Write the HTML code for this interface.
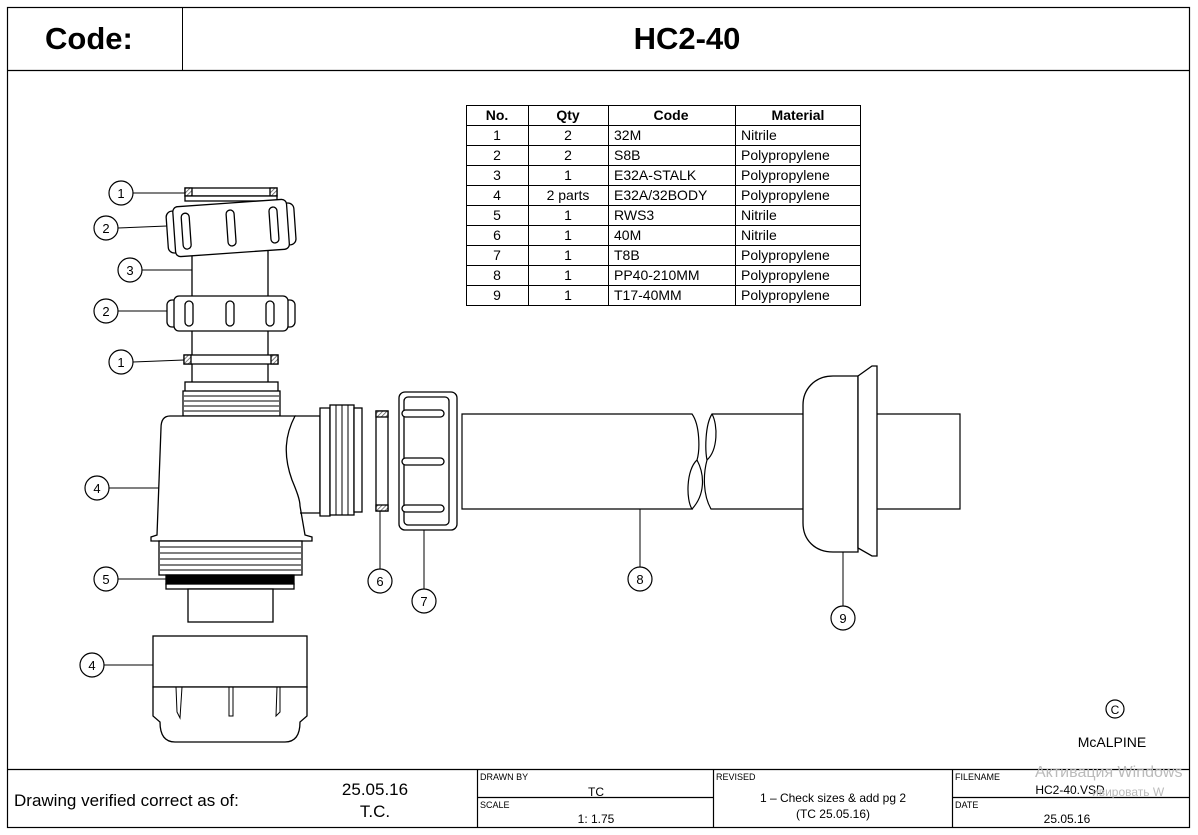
<!DOCTYPE html>
<html><head><meta charset="utf-8"><style>
html,body{margin:0;padding:0;background:#fff;}
svg{display:block;font-family:"Liberation Sans",Arial,sans-serif;}
</style></head><body>
<svg width="1198" height="835" viewBox="0 0 1198 835" xmlns="http://www.w3.org/2000/svg">
<defs>
<pattern id="h" width="3" height="3" patternUnits="userSpaceOnUse" patternTransform="rotate(45)"><rect width="3" height="3" fill="#fff"/><line x1="0" y1="0" x2="0" y2="3" stroke="#555" stroke-width="1.5"/></pattern>
</defs>
<rect x="0" y="0" width="1198" height="835" fill="#fff"/>
<rect x="7.5" y="7.5" width="1182" height="820" fill="none" stroke="#000" stroke-width="1.2"/>
<line x1="7" y1="70.5" x2="1190" y2="70.5" stroke="#000" stroke-width="1.2"/>
<line x1="182.5" y1="7" x2="182.5" y2="70" stroke="#000"/>
<text x="45" y="49" font-size="31" font-weight="bold">Code:</text>
<text x="687" y="49" font-size="31" font-weight="bold" text-anchor="middle">HC2-40</text>

<g stroke="#000" stroke-width="1" fill="none">
<rect x="466.5" y="105.5" width="394" height="200"/>
<line x1="528.5" y1="105" x2="528.5" y2="306"/><line x1="608.5" y1="105" x2="608.5" y2="306"/><line x1="735.5" y1="105" x2="735.5" y2="306"/>
<line x1="466" y1="125.5" x2="861" y2="125.5"/><line x1="466" y1="145.5" x2="861" y2="145.5"/><line x1="466" y1="165.5" x2="861" y2="165.5"/><line x1="466" y1="185.5" x2="861" y2="185.5"/><line x1="466" y1="205.5" x2="861" y2="205.5"/><line x1="466" y1="225.5" x2="861" y2="225.5"/><line x1="466" y1="245.5" x2="861" y2="245.5"/><line x1="466" y1="265.5" x2="861" y2="265.5"/><line x1="466" y1="285.5" x2="861" y2="285.5"/>
</g>
<g font-size="14" fill="#000">
<g font-weight="bold" text-anchor="middle"><text x="497" y="120">No.</text><text x="568" y="120">Qty</text><text x="671" y="120">Code</text><text x="798" y="120">Material</text></g>
<g text-anchor="middle"><text x="497" y="140">1</text><text x="497" y="160">2</text><text x="497" y="180">3</text><text x="497" y="200">4</text><text x="497" y="220">5</text><text x="497" y="240">6</text><text x="497" y="260">7</text><text x="497" y="280">8</text><text x="497" y="300">9</text>
<text x="568" y="140">2</text><text x="568" y="160">2</text><text x="568" y="180">1</text><text x="568" y="200">2 parts</text><text x="568" y="220">1</text><text x="568" y="240">1</text><text x="568" y="260">1</text><text x="568" y="280">1</text><text x="568" y="300">1</text></g>
<text x="614" y="140">32M</text><text x="614" y="160">S8B</text><text x="614" y="180">E32A-STALK</text><text x="614" y="200">E32A/32BODY</text><text x="614" y="220">RWS3</text><text x="614" y="240">40M</text><text x="614" y="260">T8B</text><text x="614" y="280">PP40-210MM</text><text x="614" y="300">T17-40MM</text>
<text x="741" y="140">Nitrile</text><text x="741" y="160">Polypropylene</text><text x="741" y="180">Polypropylene</text><text x="741" y="200">Polypropylene</text><text x="741" y="220">Nitrile</text><text x="741" y="240">Nitrile</text><text x="741" y="260">Polypropylene</text><text x="741" y="280">Polypropylene</text><text x="741" y="300">Polypropylene</text>
</g>

<g stroke="#000" stroke-width="1.3" fill="#fff">
<rect x="185" y="188" width="92" height="8"/><rect x="185" y="188" width="7" height="8" fill="url(#h)"/><rect x="270" y="188" width="7" height="8" fill="url(#h)"/>
<rect x="185" y="196" width="92" height="5"/>
<line x1="192" y1="250" x2="192" y2="383"/><line x1="268" y1="250" x2="268" y2="383"/>
<g transform="rotate(-4 231 227)">
<rect x="167" y="207" width="128" height="42" rx="6"/>
<rect x="174" y="203" width="114" height="50" rx="5"/>
<rect x="182" y="210" width="8" height="36" rx="4"/><rect x="227" y="210" width="8" height="36" rx="4"/><rect x="270" y="210" width="8" height="36" rx="4"/>
</g>
<rect x="167" y="300" width="128" height="27" rx="5"/>
<rect x="174" y="296" width="114" height="35" rx="5"/>
<rect x="185" y="301" width="8" height="25" rx="4"/><rect x="226" y="301" width="8" height="25" rx="4"/><rect x="266" y="301" width="8" height="25" rx="4"/>
<rect x="184" y="355" width="94" height="9"/><rect x="184" y="355" width="7" height="9" fill="url(#h)"/><rect x="271" y="355" width="7" height="9" fill="url(#h)"/>
<rect x="185" y="382" width="93" height="10"/>
<rect x="183" y="391" width="97" height="25"/>
<path d="M184 396 H279 M184 401 H279 M184 406 H279 M184 411 H279" fill="none" stroke-width="1"/>
<path d="M170 416 H295 C285 435,283 455,292 480 C297 492,300 500,300 506 L305 535 L312 537 L312 541 H151 L151 537 L157 535 L161 428 C161 420,164 416,170 416 Z"/>
<path d="M295 416 H320 L320 513 H300" fill="none"/>
<path d="M320 408 H330 V516 H320 Z"/>
<rect x="330" y="405" width="24" height="110"/>
<path d="M336 405 V515 M342 405 V515 M348 405 V515" fill="none" stroke-width="1"/>
<rect x="354" y="408" width="8" height="104"/>
<rect x="159" y="541" width="143" height="34"/>
<path d="M160 547 H301 M160 553 H301 M160 559 H301 M160 565 H301 M160 570 H301" fill="none" stroke-width="1"/>
<rect x="166" y="575" width="128" height="9" fill="#000"/>
<rect x="166" y="584" width="128" height="5"/>
<rect x="188" y="589" width="85" height="33"/>
<rect x="153" y="636" width="154" height="51"/>
<path d="M153 687 H307 V716 L300 722 C300 735,295 742,285 742 H175 C165 742,160 735,160 722 L153 716 Z"/>
<path d="M176 687 L177 712 L180 718 L182 687 M229 687 V716 H233 V687 M277 687 L276 716 L280 712 V687" fill="none" stroke-width="1"/>
<rect x="376" y="411" width="12" height="100"/><rect x="376" y="411" width="12" height="6" fill="url(#h)"/><rect x="376" y="505" width="12" height="6" fill="url(#h)"/>
<rect x="399" y="392" width="58" height="138" rx="6"/>
<rect x="404" y="397" width="45" height="128" rx="4"/>
<rect x="402" y="410" width="42" height="7" rx="3.5"/><rect x="402" y="458" width="42" height="7" rx="3.5"/><rect x="402" y="505" width="42" height="7" rx="3.5"/>
<!-- pipe 8 -->
<path d="M462 414 H692 C700 425,700 450,697 460 C686 470,686 500,692 509 H462 Z" stroke-width="1.2"/>
<path d="M697 460 C705 475,705 495,692 509" fill="none" stroke-width="1.2"/>
<path d="M712 414 H960 V509 H711 C703 495,703 475,707 460 C705 450,705 425,712 414 Z" stroke-width="1.2"/>
<path d="M712 414 C718 425,718 450,707 460" fill="none" stroke-width="1.2"/>
<!-- part 9 -->
<path d="M858 376 H833 C814 376,803 390,803 405 V523 C803 540,815 552,833 552 H858 Z"/>
<path d="M858 376 L872 366 L877 366 V556 L872 556 L858 548 Z"/>
</g>
<g stroke="#000" stroke-width="1" fill="none">
<line x1="133" y1="193" x2="185" y2="193"/><line x1="118" y1="228" x2="167" y2="226"/><line x1="142" y1="270" x2="192" y2="270"/><line x1="118" y1="311" x2="167" y2="311"/><line x1="133" y1="362" x2="184" y2="360"/>
<line x1="109" y1="488" x2="159" y2="488"/><line x1="118" y1="579" x2="166" y2="579"/><line x1="104" y1="665" x2="153" y2="665"/>
<line x1="380" y1="511" x2="380" y2="569"/><line x1="424" y1="530" x2="424" y2="589"/><line x1="640" y1="509" x2="640" y2="567"/><line x1="843" y1="552" x2="843" y2="606"/>
</g>
<g stroke="#000" stroke-width="1.2" fill="#fff">
<circle cx="121" cy="193" r="12"/><circle cx="106" cy="228" r="12"/><circle cx="130" cy="270" r="12"/><circle cx="106" cy="311" r="12"/><circle cx="121" cy="362" r="12"/><circle cx="97" cy="488" r="12"/><circle cx="106" cy="579" r="12"/><circle cx="92" cy="665" r="12"/><circle cx="380" cy="581" r="12"/><circle cx="424" cy="601" r="12"/><circle cx="640" cy="579" r="12"/><circle cx="843" cy="618" r="12"/>
</g>
<g font-size="13" text-anchor="middle">
<text x="121" y="198">1</text><text x="106" y="233">2</text><text x="130" y="275">3</text><text x="106" y="316">2</text><text x="121" y="367">1</text><text x="97" y="493">4</text><text x="106" y="584">5</text><text x="92" y="670">4</text><text x="380" y="586">6</text><text x="424" y="606">7</text><text x="640" y="584">8</text><text x="843" y="623">9</text>
</g>
<circle cx="1115" cy="709" r="9" fill="none" stroke="#000" stroke-width="1.2"/>
<text x="1115" y="714" font-size="12" text-anchor="middle">C</text>
<text x="1112" y="747" font-size="14" text-anchor="middle">McALPINE</text>

<g stroke="#000" stroke-width="1.2" fill="none">
<line x1="7" y1="769.5" x2="1190" y2="769.5"/>
<line x1="477.5" y1="769" x2="477.5" y2="828"/><line x1="713.5" y1="769" x2="713.5" y2="828"/><line x1="952.5" y1="769" x2="952.5" y2="828"/>
<line x1="477" y1="797.5" x2="713" y2="797.5"/><line x1="952" y1="797.5" x2="1190" y2="797.5"/>
</g>
<text x="14" y="806" font-size="17">Drawing verified  correct as of:</text>
<text x="375" y="795" font-size="17" text-anchor="middle">25.05.16</text>
<text x="375" y="817" font-size="17" text-anchor="middle">T.C.</text>
<g font-size="9"><text x="480" y="780">DRAWN BY</text><text x="480" y="808">SCALE</text><text x="716" y="780">REVISED</text><text x="955" y="780">FILENAME</text><text x="955" y="808">DATE</text></g>
<g font-size="12" text-anchor="middle">
<text x="596" y="796">TC</text><text x="596" y="823">1: 1.75</text>
<text x="833" y="802">1 – Check sizes &amp; add pg 2</text><text x="833" y="818">(TC 25.05.16)</text>
<text x="1070" y="794">HC2-40.VSD</text><text x="1067" y="823">25.05.16</text>
</g>
<text x="1035" y="777" font-size="16" fill="#bbb">Активация Windows</text>
<text x="1092" y="796" font-size="12" fill="#bbb">ивировать W</text>
</svg>
</body></html>
